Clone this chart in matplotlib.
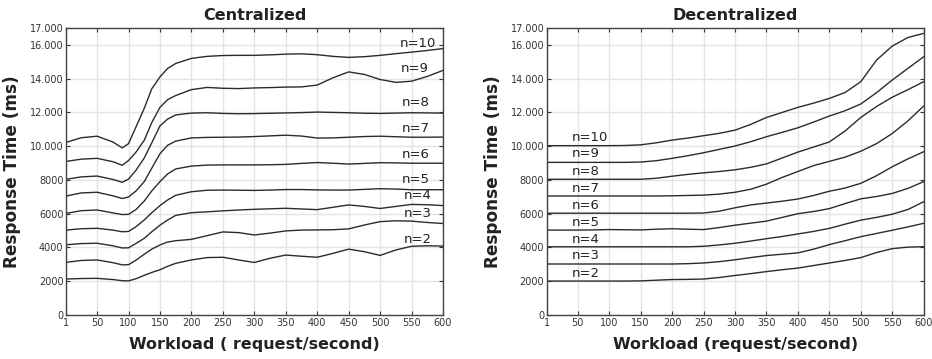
import matplotlib
matplotlib.use("Agg")
import matplotlib.pyplot as plt
from matplotlib.ticker import FixedLocator, FixedFormatter

# workload sample points (request/second)
x_cent = [1, 25, 50, 75, 90, 100, 112, 125, 137, 150, 162, 175,
          200, 225, 250, 275, 300, 325, 350, 375, 400, 425, 450, 475, 500, 525, 550, 575, 600]
x_decent = [1, 25, 50, 75, 100, 125, 150, 175, 200, 225, 250, 275, 300,
            325, 350, 375, 400, 425, 450, 475, 500, 525, 550, 575, 600]

n_values = [2, 3, 4, 5, 6, 7, 8, 9, 10]

# Centralized response time (ms), one list per n
cent_n2 = [2130, 2160, 2170, 2100, 2030, 2020, 2150, 2350, 2520, 2680, 2880, 3060,
           3260, 3400, 3420, 3260, 3110, 3360, 3550, 3480, 3420, 3650, 3900, 3750, 3530, 3850, 4070, 4100, 4080]
cent_n3 = [3120, 3230, 3260, 3100, 2970, 2980, 3250, 3600, 3900, 4150, 4320, 4400,
           4480, 4700, 4920, 4880, 4740, 4850, 4980, 5030, 5040, 5050, 5100, 5330, 5530, 5580, 5560, 5480, 5420]
cent_n4 = [4160, 4230, 4250, 4100, 3970, 3980, 4240, 4540, 4930, 5320, 5620, 5900,
           6060, 6110, 6170, 6220, 6260, 6290, 6320, 6280, 6240, 6380, 6520, 6430, 6310, 6430, 6550, 6530, 6480]
cent_n5 = [5030, 5110, 5135, 5030, 4930, 4950, 5230, 5630, 6060, 6480, 6810, 7090,
           7300, 7390, 7400, 7390, 7380, 7400, 7430, 7430, 7410, 7400, 7400, 7440, 7480, 7460, 7420, 7420, 7420]
cent_n6 = [6020, 6180, 6220, 6050, 5950, 5960, 6250, 6750, 7350, 7900, 8350, 8650,
           8820, 8880, 8890, 8890, 8890, 8900, 8920, 8980, 9030, 8990, 8940, 8980, 9020, 9010, 8990, 8990, 8990]
cent_n7 = [7050, 7230, 7270, 7060, 6900, 6990, 7350, 7900, 8700, 9550, 10050, 10300,
           10490, 10520, 10530, 10540, 10570, 10610, 10650, 10600, 10480, 10490, 10530, 10570, 10590, 10560, 10530, 10530, 10540]
cent_n8 = [8040, 8180, 8230, 8030, 7860, 8050, 8580, 9300, 10200, 11200, 11600, 11850,
           11960, 11980, 11940, 11920, 11930, 11950, 11970, 11990, 12020, 12000, 11980, 11950, 11940, 11960, 11980, 11970, 11960]
cent_n9 = [9100, 9230, 9280, 9080, 8870, 9150, 9650, 10350, 11400, 12300, 12750, 13000,
           13350, 13480, 13430, 13410, 13450, 13470, 13500, 13510, 13620, 14050, 14400, 14250, 13950, 13780, 13850, 14130, 14490]
cent_n10 = [10230, 10500, 10590, 10250, 9900, 10150, 11150, 12240, 13400, 14100, 14600, 14900,
            15200, 15320, 15370, 15380, 15380, 15410, 15450, 15470, 15420, 15320, 15260, 15300, 15380, 15480, 15570, 15670, 15780]

# Decentralized response time (ms)
dec_n2 = [2010, 2010, 2010, 2010, 2010, 2010, 2020, 2060, 2100, 2110, 2130, 2220, 2340,
          2450, 2570, 2680, 2780, 2930, 3080, 3230, 3400, 3700, 3930, 4020, 4045]
dec_n3 = [3020, 3020, 3020, 3020, 3020, 3020, 3020, 3020, 3020, 3040, 3080, 3160, 3270,
          3400, 3520, 3600, 3680, 3900, 4170, 4400, 4640, 4830, 5020, 5220, 5430]
dec_n4 = [4040, 4040, 4040, 4040, 4040, 4040, 4040, 4040, 4040, 4040, 4070, 4150, 4250,
          4380, 4520, 4650, 4800, 4950, 5130, 5380, 5620, 5780, 5970, 6250, 6710]
dec_n5 = [5030, 5030, 5030, 5040, 5060, 5050, 5040, 5080, 5110, 5080, 5060, 5180, 5320,
          5440, 5560, 5780, 6000, 6130, 6300, 6600, 6880, 7020, 7200, 7500, 7900]
dec_n6 = [6030, 6030, 6030, 6030, 6030, 6030, 6030, 6030, 6030, 6030, 6040, 6150, 6350,
          6520, 6630, 6740, 6870, 7080, 7330, 7520, 7800, 8250, 8780, 9250, 9670]
dec_n7 = [7050, 7050, 7050, 7050, 7050, 7050, 7050, 7050, 7060, 7080, 7100, 7160, 7270,
          7450, 7750, 8150, 8500, 8850, 9100, 9350, 9700, 10150, 10750, 11500, 12380]
dec_n8 = [8040, 8040, 8040, 8040, 8040, 8040, 8040, 8100, 8220, 8330, 8420, 8500, 8600,
          8750, 8950, 9300, 9650, 9950, 10250, 10900, 11700, 12350, 12900, 13350, 13820]
dec_n9 = [9040, 9040, 9040, 9040, 9040, 9040, 9060, 9140, 9280, 9435, 9610, 9810, 10010,
          10265, 10560, 10820, 11090, 11430, 11785, 12100, 12500, 13170, 13920, 14610, 15300]
dec_n10 = [10030, 10030, 10030, 10030, 10030, 10040, 10080, 10200, 10360, 10480, 10620, 10760, 10950,
           11290, 11700, 12000, 12300, 12550, 12830, 13180, 13820, 15100, 15930, 16440, 16680]

cent_series = [cent_n2, cent_n3, cent_n4, cent_n5, cent_n6, cent_n7, cent_n8, cent_n9, cent_n10]
dec_series = [dec_n2, dec_n3, dec_n4, dec_n5, dec_n6, dec_n7, dec_n8, dec_n9, dec_n10]

x_ticks = [1, 50, 100, 150, 200, 250, 300, 350, 400, 450, 500, 550, 600]
y_ticks = [0, 2000, 4000, 6000, 8000, 10000, 12000, 14000, 16000, 17000]
y_ticklabels = ["0", "2000", "4000", "6000", "8000", "10.000", "12.000", "14.000", "16.000", "17.000"]

# where the "n=.." labels sit
cent_label_x = [538, 538, 537, 535, 535, 535, 535, 533, 531]
cent_label_y = [4500, 6020, 7090, 8000, 9536, 11060, 12600, 14610, 16090]
dec_label_x = [40] * 9
dec_label_y = [2430, 3495, 4480, 5470, 6475, 7505, 8490, 9577, 10500]

line_color = "#2b2b2b"
grid_color = "#e4e4e4"
text_color = "#222222"

fig = plt.figure(figsize=(9.32, 3.59), dpi=100)
ax1 = fig.add_axes([0.0711, 0.1226, 0.4042, 0.7994])
ax2 = fig.add_axes([0.5869, 0.1226, 0.4042, 0.7994])


def style_axes(ax, title, xlabel):
    ax.set_xlim(1, 600)
    ax.set_ylim(0, 17000)
    ax.xaxis.set_major_locator(FixedLocator(x_ticks))
    ax.xaxis.set_major_formatter(FixedFormatter([str(t) for t in x_ticks]))
    ax.yaxis.set_major_locator(FixedLocator(y_ticks))
    ax.yaxis.set_major_formatter(FixedFormatter(y_ticklabels))
    ax.grid(True, color=grid_color, linewidth=1.0)
    ax.set_axisbelow(True)
    ax.tick_params(direction="in", top=True, right=True, length=3, width=0.8,
                   labelsize=7, colors="#333333", pad=2)
    for sp in ax.spines.values():
        sp.set_color("#444444")
        sp.set_linewidth(1.0)
    ax.set_title(title, fontsize=11.5, fontweight="bold", color=text_color, pad=6)
    ax.set_xlabel(xlabel, fontsize=11.5, fontweight="bold", color=text_color, labelpad=7)
    ax.set_ylabel("Response Time (ms)", fontsize=12.2, fontweight="bold", color=text_color, labelpad=6)


for ys in cent_series:
    ax1.plot(x_cent, ys, color=line_color, linewidth=1.0, solid_joinstyle="round")
for n, lx, ly in zip(n_values, cent_label_x, cent_label_y):
    ax1.text(lx, ly, f"n={n}", fontsize=9.5, color=text_color, va="center", ha="left")
style_axes(ax1, "Centralized", "Workload ( request/second)")

for ys in dec_series:
    ax2.plot(x_decent, ys, color=line_color, linewidth=1.0, solid_joinstyle="round")
for n, lx, ly in zip(n_values, dec_label_x, dec_label_y):
    ax2.text(lx, ly, f"n={n}", fontsize=9.5, color=text_color, va="center", ha="left")
style_axes(ax2, "Decentralized", "Workload (request/second)")

fig.savefig("out.png", dpi=100)
